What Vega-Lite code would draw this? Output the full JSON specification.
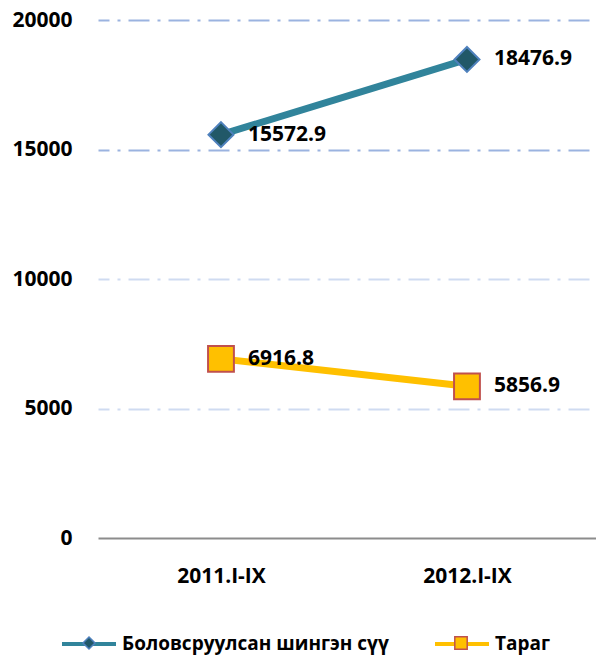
{
  "$schema": "https://vega.github.io/schema/vega-lite/v6.json",
  "width": 498,
  "height": 518,
  "autosize": {"type": "none"},
  "padding": {"left": 98, "top": 20, "right": 0, "bottom": 117},
  "background": "white",
  "config": {"view": {"stroke": null}, "font": "Open Sans"},
  "data": {
    "values": [
      {"period": "2011.I-IX", "series": "Боловсруулсан шингэн сүү", "value": 15572.9, "label": "15572.9"},
      {"period": "2012.I-IX", "series": "Боловсруулсан шингэн сүү", "value": 18476.9, "label": "18476.9"},
      {"period": "2011.I-IX", "series": "Тараг", "value": 6916.8, "label": "6916.8"},
      {"period": "2012.I-IX", "series": "Тараг", "value": 5856.9, "label": "5856.9"}
    ]
  },
  "encoding": {
    "x": {
      "field": "period", "type": "ordinal", "title": null,
      "scale": {"type": "point", "padding": 0.5122, "align": 0.488},
      "axis": {
        "domain": true, "domainColor": "#8c8c8c", "domainWidth": 2,
        "ticks": false, "grid": false, "labelAngle": 0,
        "labelFontSize": 21, "labelFontWeight": "bold", "labelColor": "#000000",
        "labelPadding": 27
      }
    },
    "y": {
      "field": "value", "type": "quantitative", "title": null,
      "scale": {"domain": [0, 20000], "nice": false},
      "axis": {
        "values": [0, 5000, 10000, 15000, 20000],
        "domain": false, "ticks": false, "grid": true,
        "gridDash": [21, 8, 3, 8], "gridDashOffset": 10, "gridWidth": 2,
        "gridColor": {"condition": {"test": "datum.value >= 15000", "value": "#9bb3e0"}, "value": "#cfdbf1"},
        "gridOpacity": {"condition": {"test": "datum.value === 0", "value": 0}, "value": 1},
        "labelFontSize": 21, "labelFontWeight": "bold", "labelColor": "#000000",
        "labelPadding": 26, "format": "d"
      }
    }
  },
  "layer": [
    {
      "mark": {"type": "line", "strokeWidth": 7},
      "encoding": {
        "color": {
          "field": "series", "type": "nominal",
          "scale": {"domain": ["Боловсруулсан шингэн сүү", "Тараг"], "range": ["#31849b", "#ffc000"]},
          "legend": {
            "orient": "none", "legendX": -21, "legendY": 612,
            "direction": "horizontal", "title": null,
            "symbolType": "M-2.7,0H2.7", "symbolSize": 400, "symbolStrokeWidth": 4,
            "labelFontSize": 19, "labelFontWeight": "bold", "labelColor": "#000000",
            "labelLimit": 500, "labelOffset": 21, "columnPadding": 38, "padding": 0,
            "encode": {"symbols": {"update": {
              "fill": {"value": "transparent"},
              "stroke": {"signal": "datum.value === 'Тараг' ? '#ffc000' : '#31849b'"},
              "strokeWidth": {"value": 4},
              "opacity": {"value": 1}
            }}}
          }
        }
      }
    },
    {
      "mark": {"type": "point", "filled": true, "size": 1736, "strokeWidth": 2, "opacity": 1},
      "encoding": {
        "shape": {
          "field": "series", "type": "nominal",
          "scale": {"range": ["M0,-0.6L0.6,0L0,0.6L-0.6,0Z", "M-0.62,-0.62H0.62V0.62H-0.62Z"]},
          "legend": {
            "orient": "none", "legendX": -20, "legendY": 612,
            "direction": "horizontal", "title": null,
            "symbolSize": 400, "symbolStrokeWidth": 1.5,
            "labelExpr": "''",
            "labelFontSize": 19, "labelFontWeight": "bold", "labelColor": "#000000",
            "labelLimit": 500, "labelOffset": 23, "columnPadding": 327, "padding": 0,
            "encode": {"symbols": {"update": {
              "strokeWidth": {"value": 1.5},
              "opacity": {"value": 1}
            }}}
          }
        },
        "fill": {
          "field": "series", "type": "nominal",
          "scale": {"range": ["#215868", "#ffc000"]},
          "legend": null
        },
        "stroke": {
          "field": "series", "type": "nominal",
          "scale": {"range": ["#4f81bd", "#c0504d"]},
          "legend": null
        }
      }
    },
    {
      "mark": {"type": "text", "align": "left", "baseline": "middle", "dx": 27, "fontSize": 21, "fontWeight": "bold", "color": "#000000"},
      "encoding": {"text": {"field": "label", "type": "nominal"}}
    }
  ]
}
